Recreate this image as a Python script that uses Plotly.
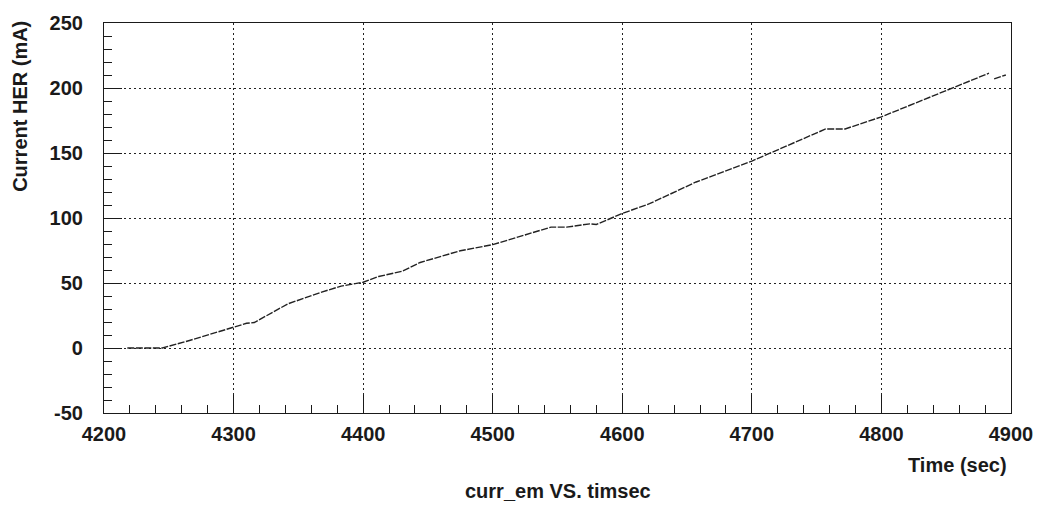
import plotly.graph_objects as go

# Data (time in seconds, current in mA)
time_sec = [4218, 4245, 4266, 4300, 4310, 4316, 4342, 4368, 4383, 4400, 4412,
            4430, 4444, 4475, 4500, 4545, 4557, 4575, 4580, 4600, 4621, 4657,
            4700, 4757, 4772, 4800, 4840, 4883, None, 4887, 4896]
curr_her = [0, 0, 5.8, 16, 19, 19.6, 34, 43, 47.6, 50.6, 55,
            59, 65.8, 74.8, 79.5, 93, 93, 95.5, 95, 103.5, 111, 127.7,
            143.8, 168.5, 168.5, 177.8, 194, 211.4, None, 207, 210]

x_ticks = [4200, 4300, 4400, 4500, 4600, 4700, 4800, 4900]
y_ticks = [-50, 0, 50, 100, 150, 200, 250]
y_tick_labels = ["-50", "0", "50", "100", "150", "200", "250"]

FONT = "Liberation Sans, Arial, Helvetica, sans-serif"
INK = "#1a1a1a"

fig = go.Figure()
fig.add_trace(go.Scatter(
    x=time_sec, y=curr_her, mode="lines",
    line=dict(color="#222222", width=1.4, dash="7px,1.5px"),
    connectgaps=False, showlegend=False, hoverinfo="skip"))

axis_common = dict(
    showline=True, linecolor=INK, linewidth=1.2, mirror=True,
    ticks="inside", ticklen=18, tickwidth=1, tickcolor=INK,
    showgrid=True, gridcolor="#222222", gridwidth=1, griddash="2px,3px",
    zeroline=False,
    tickfont=dict(family=FONT, size=20, color=INK, weight="bold"),
)

fig.update_layout(
    width=1045, height=505,
    margin=dict(l=104, r=31, t=16, b=92),
    paper_bgcolor="white", plot_bgcolor="white",
    xaxis=dict(range=[4200, 4900], tickvals=x_ticks, ticklabelstandoff=3,
               minor=dict(ticks="inside", ticklen=8, dtick=20, tick0=4200,
                          tickcolor=INK, showgrid=False),
               **axis_common),
    yaxis=dict(range=[-50, 250], tickvals=y_ticks, ticktext=y_tick_labels,
               ticklabelstandoff=16,
               minor=dict(ticks="inside", ticklen=8, dtick=10, tick0=0,
                          tickcolor=INK, showgrid=False),
               **axis_common),
    annotations=[
        dict(text="Current HER (mA)", xref="paper", yref="paper",
             x=-85/910, y=1 + 4/397, xanchor="center", yanchor="top",
             textangle=-90, showarrow=False,
             font=dict(family=FONT, size=20, color=INK, weight="bold")),
        dict(text="Time (sec)", xref="paper", yref="paper",
             x=(1012-104)/910, y=-(466-413)/397, xanchor="right", yanchor="middle",
             showarrow=False, font=dict(family=FONT, size=20, color=INK, weight="bold")),
        dict(text="curr_em VS. timsec", xref="paper", yref="paper",
             x=(560-104)/910, y=-(492-413)/397, xanchor="center", yanchor="middle",
             showarrow=False, font=dict(family=FONT, size=20, color=INK, weight="bold")),
    ],
)

fig.write_html("out.html")
